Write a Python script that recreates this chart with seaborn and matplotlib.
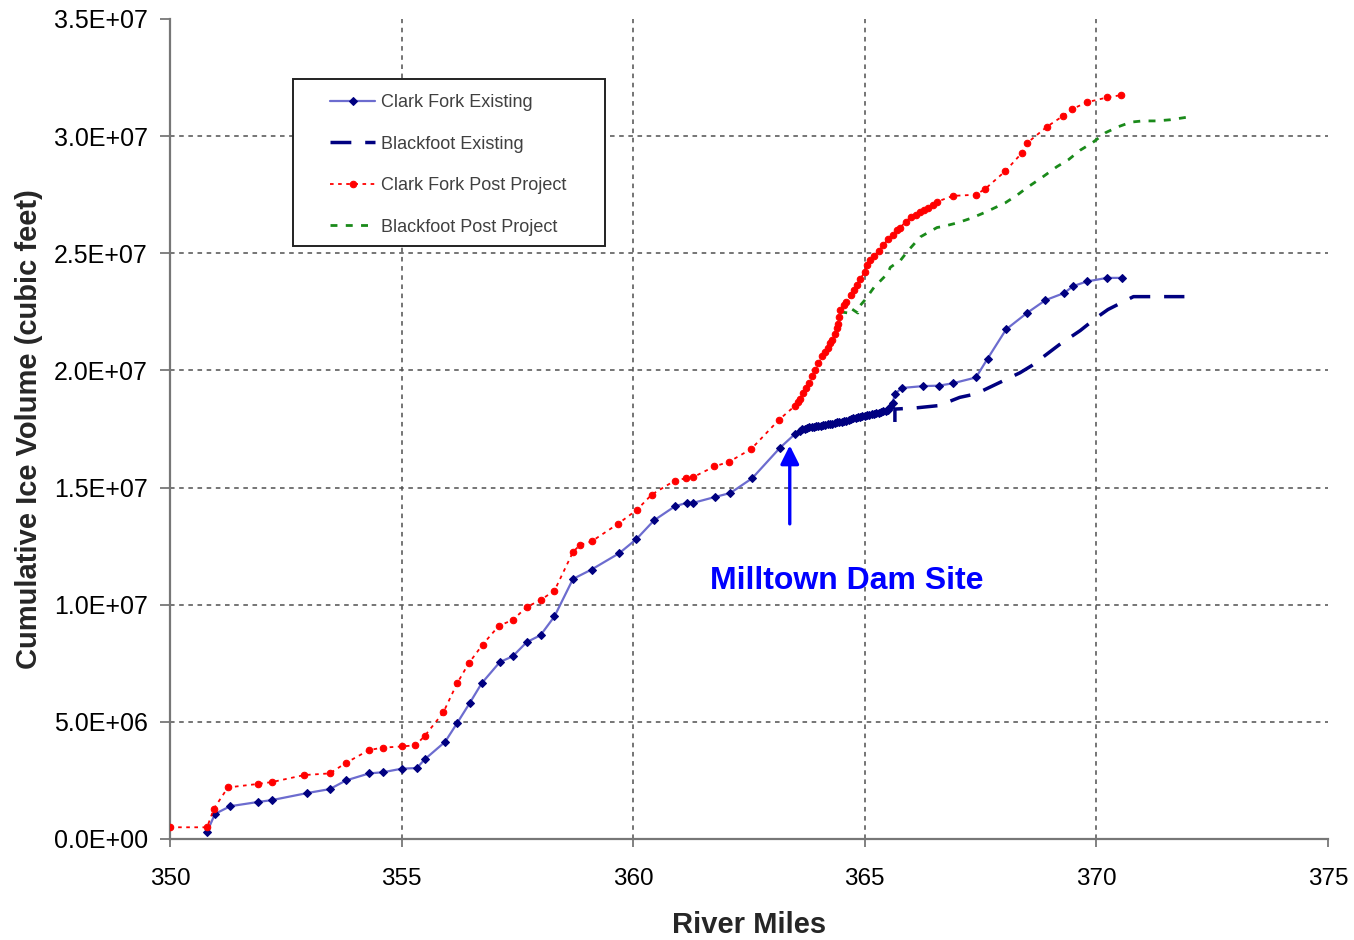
import matplotlib
matplotlib.use("Agg")
import matplotlib.pyplot as plt
import matplotlib.patches as mpatches
from matplotlib.ticker import FixedLocator, FixedFormatter
import seaborn as sns
import pandas as pd

# ---------------- data (values in cubic feet, x in river miles) ----------------
cf_exist_x = [350.80, 350.97, 351.30, 351.90, 352.20, 352.96, 353.45, 353.80, 354.30, 354.60,
              355.00, 355.33, 355.50, 355.94, 356.20, 356.47, 356.73, 357.12, 357.40, 357.70,
              358.00, 358.30, 358.70, 359.10, 359.70, 360.07, 360.45, 360.90, 361.16, 361.30,
              361.77, 362.10, 362.57, 363.17, 363.50, 363.60, 363.65, 363.70, 363.75, 363.80,
              363.85, 363.90, 363.95, 364.00, 364.05, 364.10, 364.15, 364.20, 364.25, 364.30,
              364.35, 364.40, 364.45, 364.50, 364.55, 364.60, 364.65, 364.70, 364.75, 364.80,
              364.85, 364.90, 364.95, 365.00, 365.05, 365.10, 365.15, 365.20, 365.25, 365.30,
              365.35, 365.40, 365.45, 365.50, 365.55, 365.60, 365.65, 365.80, 366.25, 366.60,
              366.90, 367.40, 367.65, 368.05, 368.50, 368.90, 369.30, 369.50, 369.80, 370.23,
              370.55]
cf_exist_y = [0.30e6, 1.07e6, 1.40e6, 1.58e6, 1.66e6, 1.96e6, 2.13e6, 2.50e6, 2.80e6, 2.85e6,
              3.00e6, 3.03e6, 3.40e6, 4.15e6, 4.95e6, 5.80e6, 6.65e6, 7.55e6, 7.80e6, 8.40e6,
              8.70e6, 9.50e6, 11.10e6, 11.50e6, 12.20e6, 12.80e6, 13.60e6, 14.20e6, 14.35e6, 14.35e6,
              14.60e6, 14.77e6, 15.40e6, 16.70e6, 17.30e6, 17.40e6, 17.48e6, 17.52e6, 17.55e6, 17.58e6,
              17.57e6, 17.60e6, 17.62e6, 17.63e6, 17.62e6, 17.66e6, 17.68e6, 17.70e6, 17.72e6, 17.71e6,
              17.75e6, 17.78e6, 17.80e6, 17.82e6, 17.85e6, 17.86e6, 17.90e6, 17.92e6, 17.95e6, 17.98e6,
              18.00e6, 18.02e6, 18.05e6, 18.06e6, 18.08e6, 18.10e6, 18.12e6, 18.15e6, 18.17e6, 18.20e6,
              18.22e6, 18.25e6, 18.27e6, 18.30e6, 18.45e6, 18.60e6, 19.00e6, 19.25e6, 19.33e6, 19.35e6,
              19.45e6, 19.70e6, 20.50e6, 21.75e6, 22.45e6, 23.00e6, 23.30e6, 23.60e6, 23.80e6, 23.95e6,
              23.95e6]

bf_exist_x = [365.65, 365.65, 366.10, 366.60, 367.05, 367.40, 367.77, 368.35, 368.60, 369.20,
              369.65, 370.00, 370.25, 370.55, 370.80, 371.30, 371.90]
bf_exist_y = [17.80e6, 18.35e6, 18.40e6, 18.50e6, 18.85e6, 19.00e6, 19.35e6, 19.90e6, 20.20e6, 21.10e6,
              21.70e6, 22.25e6, 22.60e6, 22.90e6, 23.15e6, 23.15e6, 23.15e6]

cf_post_x = [350.00, 350.80, 350.95, 351.25, 351.90, 352.20, 352.90, 353.45, 353.80, 354.30,
             354.60, 355.00, 355.30, 355.50, 355.90, 356.20, 356.45, 356.75, 357.10, 357.40,
             357.70, 358.00, 358.30, 358.70, 358.85, 359.10, 359.67, 360.08, 360.40, 360.90,
             361.15, 361.30, 361.75, 362.07, 362.55, 363.15, 363.50, 363.55, 363.60, 363.67,
             363.73, 363.80, 363.87, 363.93, 364.00, 364.07, 364.13, 364.20, 364.25, 364.30,
             364.35, 364.40, 364.43, 364.45, 364.47, 364.55, 364.60, 364.70, 364.77, 364.83,
             364.90, 365.00, 365.05, 365.12, 365.20, 365.30, 365.40, 365.50, 365.60, 365.70,
             365.77, 365.88, 366.00, 366.10, 366.20, 366.28, 366.37, 366.47, 366.56, 366.90,
             367.40, 367.60, 368.03, 368.40, 368.50, 368.93, 369.27, 369.47, 369.80, 370.23,
             370.53]
cf_post_y = [0.50e6, 0.50e6, 1.30e6, 2.20e6, 2.35e6, 2.43e6, 2.73e6, 2.80e6, 3.25e6, 3.80e6,
             3.90e6, 3.95e6, 4.00e6, 4.40e6, 5.40e6, 6.65e6, 7.50e6, 8.30e6, 9.10e6, 9.35e6,
             9.90e6, 10.20e6, 10.60e6, 12.25e6, 12.55e6, 12.70e6, 13.45e6, 14.05e6, 14.70e6, 15.30e6,
             15.40e6, 15.45e6, 15.90e6, 16.10e6, 16.65e6, 17.90e6, 18.50e6, 18.65e6, 18.80e6, 19.05e6,
             19.25e6, 19.45e6, 19.75e6, 20.00e6, 20.30e6, 20.60e6, 20.80e6, 20.95e6, 21.15e6, 21.30e6,
             21.55e6, 21.80e6, 22.00e6, 22.30e6, 22.60e6, 22.80e6, 22.90e6, 23.20e6, 23.45e6, 23.65e6,
             23.90e6, 24.20e6, 24.50e6, 24.70e6, 24.90e6, 25.10e6, 25.35e6, 25.60e6, 25.80e6, 26.00e6,
             26.10e6, 26.35e6, 26.55e6, 26.65e6, 26.75e6, 26.85e6, 26.95e6, 27.05e6, 27.20e6, 27.45e6,
             27.50e6, 27.75e6, 28.50e6, 29.30e6, 29.70e6, 30.40e6, 30.85e6, 31.15e6, 31.45e6, 31.65e6,
             31.75e6]

bf_post_x = [364.47, 364.65, 364.70, 364.85, 364.87, 365.00, 365.20, 365.35, 365.50, 365.55,
             365.77, 365.93, 366.20, 366.56, 366.70, 367.00, 367.30, 367.60, 368.03, 368.30,
             368.50, 368.80, 369.15, 369.40, 369.65, 369.90, 370.20, 370.47, 370.75, 371.00,
             371.30, 371.60, 371.93]
bf_post_y = [22.50e6, 22.45e6, 22.65e6, 22.45e6, 22.70e6, 23.00e6, 23.55e6, 23.85e6, 24.15e6, 24.40e6,
             24.70e6, 25.10e6, 25.70e6, 26.10e6, 26.15e6, 26.30e6, 26.50e6, 26.75e6, 27.15e6, 27.50e6,
             27.80e6, 28.20e6, 28.70e6, 29.00e6, 29.40e6, 29.70e6, 30.15e6, 30.40e6, 30.60e6, 30.65e6,
             30.65e6, 30.70e6, 30.80e6]

series_names = ["Clark Fork Existing", "Blackfoot Existing",
                "Clark Fork Post Project", "Blackfoot Post Project"]

x_ticks = [350, 355, 360, 365, 370, 375]
x_tick_labels = ["350", "355", "360", "365", "370", "375"]
y_ticks = [0, 5e6, 1e7, 1.5e7, 2e7, 2.5e7, 3e7, 3.5e7]
y_tick_labels = ["0.0E+00", "5.0E+06", "1.0E+07", "1.5E+07", "2.0E+07", "2.5E+07", "3.0E+07", "3.5E+07"]

annot_text = "Milltown Dam Site"
arrow_x, arrow_tip_y, arrow_base_y = 363.38, 16.8e6, 13.45e6
text_x, text_y = 364.62, 11.02e6

# ---------------- styling ----------------
sns.set_theme(style="white")
plt.rcParams["font.family"] = ["Liberation Sans", "DejaVu Sans"]

fig = plt.figure(figsize=(13.54, 9.40), dpi=100)
ax = fig.add_axes([170 / 1354, 1 - 839 / 940, (1328 - 170) / 1354, (839 - 19) / 940])

df_bfe = pd.DataFrame({"x": bf_exist_x, "y": bf_exist_y})
df_cfe = pd.DataFrame({"x": cf_exist_x, "y": cf_exist_y})
df_bfp = pd.DataFrame({"x": bf_post_x, "y": bf_post_y})
df_cfp = pd.DataFrame({"x": cf_post_x, "y": cf_post_y})

common = dict(ax=ax, sort=False, estimator=None)

sns.lineplot(data=df_cfe, x="x", y="y", color="#6C6CCF", lw=1.6, marker="D", markersize=4.4,
             markerfacecolor="#000080", markeredgecolor="#000080", label=series_names[0],
             zorder=4, **common)
sns.lineplot(data=df_bfe, x="x", y="y", color="#000080", lw=2.5, linestyle=(0, (6, 4)),
             label=series_names[1], zorder=3, **common)
sns.lineplot(data=df_cfp, x="x", y="y", color="#FF0000", lw=1.3, linestyle=(0, (2, 2.5)),
             marker="o", markersize=4.7, markerfacecolor="#FF0000", markeredgecolor="#FF0000",
             label=series_names[2], zorder=6, **common)
sns.lineplot(data=df_bfp, x="x", y="y", color="#1A8A1A", lw=2.0, linestyle=(0, (2.5, 3)),
             label=series_names[3], zorder=5, **common)

ax.set_xlim(350, 375)
ax.set_ylim(0, 3.5e7)
ax.xaxis.set_major_locator(FixedLocator(x_ticks))
ax.xaxis.set_major_formatter(FixedFormatter(x_tick_labels))
ax.yaxis.set_major_locator(FixedLocator(y_ticks))
ax.yaxis.set_major_formatter(FixedFormatter(y_tick_labels))

# grid
ax.grid(True, color="#505050", lw=1.1, linestyle=(0, (3, 3)))
ax.set_axisbelow(True)
fig.canvas.draw()
for gl in [ax.xaxis.get_gridlines()[0], ax.xaxis.get_gridlines()[-1],
           ax.yaxis.get_gridlines()[0], ax.yaxis.get_gridlines()[-1]]:
    gl.set_visible(False)

for s in ["top", "right"]:
    ax.spines[s].set_visible(False)
for s in ["left", "bottom"]:
    ax.spines[s].set_color("#777777")
    ax.spines[s].set_linewidth(1.6)

ax.tick_params(axis="x", direction="out", length=6, width=1.3, color="#777777",
               labelsize=17.5, pad=15, bottom=True, labelcolor="black")
ax.tick_params(axis="y", direction="out", length=7, width=1.3, color="#777777",
               labelsize=18, pad=9, left=True, labelcolor="black")

ax.set_xlabel("River Miles", fontsize=21, fontweight="bold", labelpad=15)
ax.set_ylabel("Cumulative Ice Volume (cubic feet)", fontsize=21, fontweight="bold", labelpad=8)

# annotation arrow and text
ax.annotate("", xy=(arrow_x, arrow_tip_y), xytext=(arrow_x, arrow_base_y),
            arrowprops=dict(arrowstyle="-|>", color="#0000FF", lw=2.4, mutation_scale=28,
                            shrinkA=0, shrinkB=0), zorder=7)
ax.text(text_x, text_y, annot_text, color="#0000FF", fontsize=23, fontweight="bold",
        ha="center", va="center", zorder=7)

# legend: box + entries
box = mpatches.Rectangle(((293 - 170) / 1158, (839 - 246) / 820), (605 - 293) / 1158, (246 - 79) / 820,
                         transform=ax.transAxes, facecolor="white", edgecolor="#222222", lw=1.4,
                         zorder=8)
ax.add_patch(box)
leg = ax.legend(loc="upper left", bbox_to_anchor=((330 - 170) / 1158, (839 - 94) / 820),
                frameon=False, fontsize=13, borderpad=0, borderaxespad=0,
                handlelength=2.5, handletextpad=0.3, labelspacing=1.36)
leg.set_zorder(9)
for t in leg.get_texts():
    t.set_color("#404040")

fig.savefig("out.png", dpi=100)
